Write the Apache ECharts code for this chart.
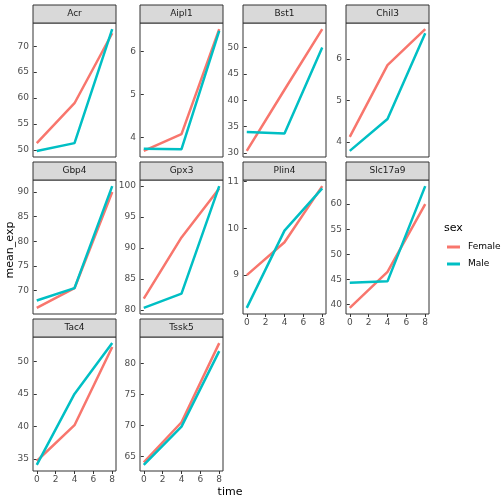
<!DOCTYPE html><html><head><meta charset="utf-8"><script src="https://cdn.jsdelivr.net/npm/echarts@6/dist/echarts.min.js"></script></head><body style="margin:0"><div id="c" style="width:504px;height:504px"></div><script>
const times=[0,4,8];
const genes=['Acr','Aipl1','Bst1','Chil3','Gbp4','Gpx3','Plin4','Slc17a9','Tac4','Tssk5'];
const female=[[51.3,59,72.5],[3.68,4.07,6.52],[30.4,42,53.5],[4.12,5.85,6.72],[66.5,70.5,90],[81.8,91.7,99.6],[9.0,9.7,10.9],[39.3,46.5,60],[34.7,40.2,52.2],[64,70.5,83.3]];
const male=[[49.8,51.3,73.3],[3.73,3.72,6.48],[34,33.7,50],[3.78,4.55,6.62],[68,70.5,91.2],[80.3,82.6,100],[8.3,9.95,10.85],[44.3,44.6,63.6],[34.1,45,52.8],[63.6,69.8,82]];
const yTicks=[[50,55,60,65,70],[4,5,6],[30,35,40,45,50],[4,5,6],[70,75,80,85,90],[80,85,90,95,100],[9,10,11],[40,45,50,55,60,65],[35,40,45,50],[65,70,75,80]];
const xTicks=[0,2,4,6,8];
const lefts=[33,140,243,346],tops=[23,180,337],W=83,H=134;
const bottomPanels=[6,7,8,9];
const grid=[],xAxis=[],yAxis=[],series=[],graphic=[];
const txt='#4d4d4d';
genes.forEach((g,i)=>{
 const r=Math.floor(i/4),c=i%4,L=lefts[c],T=tops[r];
 grid.push({left:L,top:T,width:W,height:H,show:true,borderColor:'#333',borderWidth:1,backgroundColor:'#fff'});
 const all=female[i].concat(male[i]);const mn=Math.min(...all),mx=Math.max(...all),e=(mx-mn)*0.05;
 const showX=bottomPanels.includes(i);
 xAxis.push({gridIndex:i,type:'value',min:-0.4,max:8.4,axisLine:{show:false},splitLine:{show:false},
  axisTick:{show:showX,customValues:xTicks,lineStyle:{color:'#333'},length:3},
  axisLabel:{show:showX,customValues:xTicks,color:txt,fontSize:9,margin:4,fontFamily:'DejaVu Sans'}});
 yAxis.push({gridIndex:i,type:'value',min:mn-e,max:mx+e,axisLine:{show:false},splitLine:{show:false},
  axisTick:{show:true,customValues:yTicks[i],lineStyle:{color:'#333'},length:3},
  axisLabel:{customValues:yTicks[i],color:txt,fontSize:9,margin:4,fontFamily:'DejaVu Sans'}});
 series.push({type:'line',xAxisIndex:i,yAxisIndex:i,name:'Female',data:times.map((t,k)=>[t,female[i][k]]),symbol:'none',lineStyle:{width:2.5,color:'#F8766D'},color:'#F8766D',animation:false});
 series.push({type:'line',xAxisIndex:i,yAxisIndex:i,name:'Male',data:times.map((t,k)=>[t,male[i][k]]),symbol:'none',lineStyle:{width:2.5,color:'#00BFC4'},color:'#00BFC4',animation:false});
 graphic.push({type:'rect',shape:{x:L,y:T-18,width:W,height:18},style:{fill:'#d9d9d9',stroke:'#333',lineWidth:1}});
 graphic.push({type:'text',x:L+W/2,y:T-9,style:{text:g,fill:'#1a1a1a',fontSize:9,align:'center',verticalAlign:'middle',fontFamily:'DejaVu Sans'}});
});
graphic.push({type:'text',x:10,y:250,rotation:Math.PI/2,style:{text:'mean_exp',fill:'#000',fontSize:11,align:'center',verticalAlign:'middle',fontFamily:'DejaVu Sans'}});
graphic.push({type:'text',x:230,y:492,style:{text:'time',fill:'#000',fontSize:11,align:'center',verticalAlign:'middle',fontFamily:'DejaVu Sans'}});
graphic.push({type:'text',x:444,y:228,style:{text:'sex',fill:'#000',fontSize:11,verticalAlign:'middle',fontFamily:'DejaVu Sans'}});
[['Female','#F8766D',247],['Male','#00BFC4',264]].forEach(([n,col,y])=>{
 graphic.push({type:'rect',shape:{x:447,y:y-1.5,width:13,height:3},style:{fill:col}});
 graphic.push({type:'text',x:468,y:y,style:{text:n,fill:'#000',fontSize:9,verticalAlign:'middle',fontFamily:'DejaVu Sans'}});
});
const ch=echarts.init(document.getElementById('c'));
ch.setOption({animation:false,backgroundColor:'#fff',grid,xAxis,yAxis,series,graphic});
</script></body></html>
